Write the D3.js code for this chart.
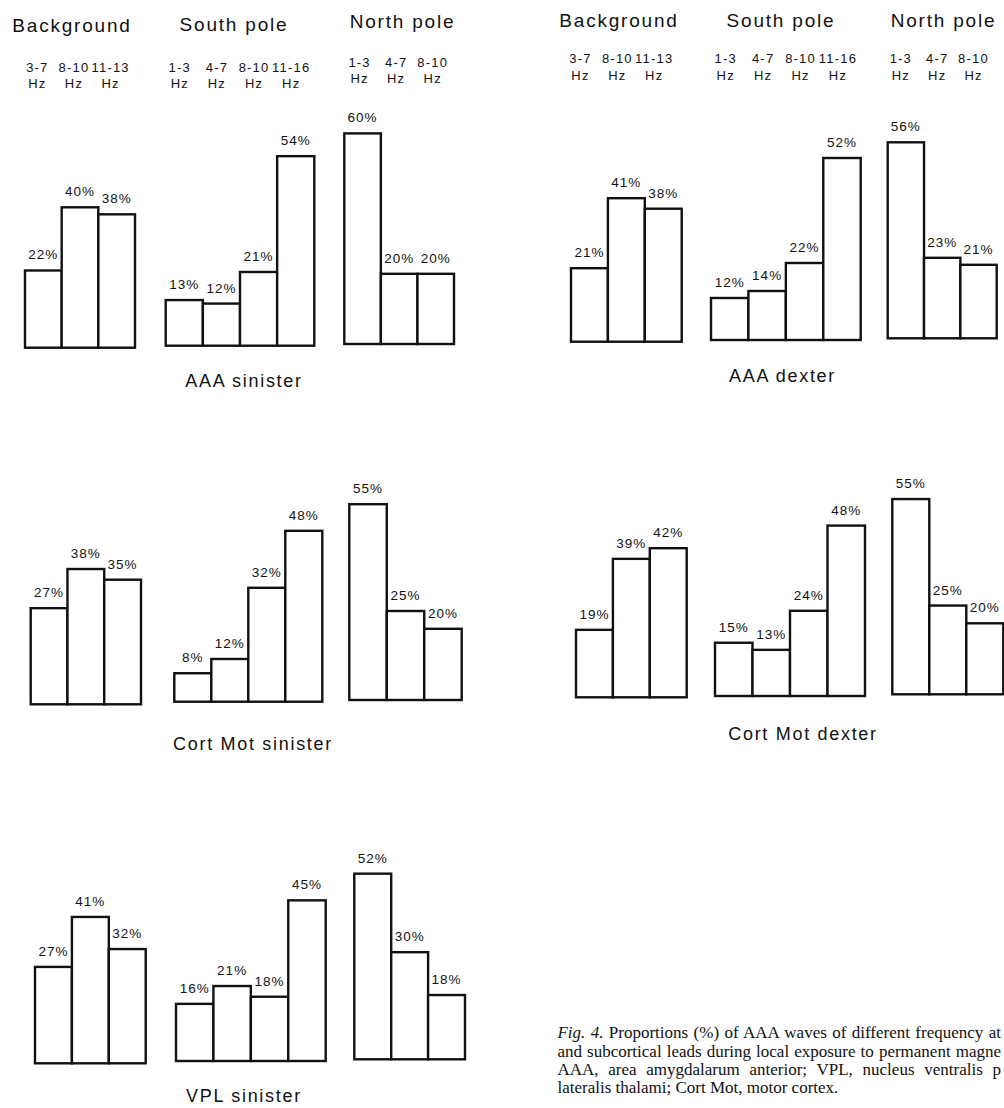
<!DOCTYPE html>
<html>
<head>
<meta charset="utf-8">
<script src="https://cdn.jsdelivr.net/npm/d3@7"></script>
<style>
  html, body { margin: 0; padding: 0; background: #fff; }
  svg { display: block; }
  .sans { font-family: "Liberation Sans", Arial, sans-serif; fill: #111; }
  .serif { font-family: "Liberation Serif", "Times New Roman", serif; fill: #111; }
</style>
</head>
<body>
<svg id="fig" width="1004" height="1108"></svg>
<script>
// Frequency bands per recording condition
const backgroundBands = ["3-7", "8-10", "11-13"];
const southBands = ["1-3", "4-7", "8-10", "11-16"];
const northBands = ["1-3", "4-7", "8-10"];
const conditionNames = ["Background", "South pole", "North pole"];

// Proportions (%) of AAA waves: [background, south pole, north pole]
const aaaSinister = [[22, 40, 38], [13, 12, 21, 54], [60, 20, 20]];
const aaaDexter = [[21, 41, 38], [12, 14, 22, 52], [56, 23, 21]];
const cortMotSinister = [[27, 38, 35], [8, 12, 32, 48], [55, 25, 20]];
const cortMotDexter = [[19, 39, 42], [15, 13, 24, 48], [55, 25, 20]];
const vplSinister = [[27, 41, 32], [16, 21, 18, 45], [52, 30, 18]];

const panelTitles = ["AAA sinister", "AAA dexter", "Cort Mot sinister", "Cort Mot dexter", "VPL sinister"];

// Caption lines as they appear on the page (the right margin trims them)
const captionLines = [
  "Fig. 4. Proportions (%) of AAA waves of different frequency at",
  "and subcortical leads during local exposure to permanent magne",
  "AAA, area amygdalarum anterior; VPL, nucleus ventralis p",
  "lateralis thalami; Cort Mot, motor cortex."
];

const bandSets = [backgroundBands, southBands, northBands];
const svg = d3.select("#fig");
svg.append("rect").attr("width", 1004).attr("height", 1108).attr("fill", "#fff");

// Page geometry of each panel: group extents, baselines and px-per-percent
const panels = [
  { values: aaaSinister, k: 3.51, title: [244, 386.7],
    groups: [{ x: [25, 135], base: 347.7 }, { x: [165.7, 314.3], base: 345.7 }, { x: [344.3, 454], base: 344 }] },
  { values: aaaDexter, k: 3.50, title: [782.5, 381.7],
    groups: [{ x: [571, 681.7], base: 341.7 }, { x: [711, 860.7], base: 340 }, { x: [887.7, 996.7], base: 338.3 }] },
  { values: cortMotSinister, k: 3.56, title: [253, 750],
    groups: [{ x: [30.7, 141], base: 704.3 }, { x: [174.3, 322.3], base: 701.7 }, { x: [349.3, 461.7], base: 700 }] },
  { values: cortMotDexter, k: 3.55, title: [803, 740],
    groups: [{ x: [576, 686.7], base: 697.3 }, { x: [715, 865], base: 696 }, { x: [892.3, 1003.3], base: 694.3 }] },
  { values: vplSinister, k: 3.57, title: [244, 1101.7],
    groups: [{ x: [35, 145.7], base: 1063.3 }, { x: [176, 325.7], base: 1061 }, { x: [354.3, 465], base: 1059.3 }] }
];

panels.forEach((p, pi) => {
  const g = svg.append("g").attr("class", "panel");
  p.groups.forEach((grp, gi) => {
    const cats = bandSets[gi];
    const x = d3.scaleBand().domain(cats).range(grp.x).padding(0);
    const y = d3.scaleLinear().domain([0, 60]).range([grp.base, grp.base - 60 * p.k]);
    const data = cats.map((c, i) => ({ c, v: p.values[gi][i] }));
    g.selectAll(null).data(data).enter().append("rect")
      .attr("x", d => x(d.c)).attr("y", d => y(d.v))
      .attr("width", x.bandwidth()).attr("height", d => y(0) - y(d.v))
      .attr("fill", "#fff").attr("stroke", "#111").attr("stroke-width", 2.4);
    g.selectAll(null).data(data).enter().append("text")
      .attr("class", "sans")
      .attr("x", d => x(d.c) + x.bandwidth() / 2).attr("y", d => y(d.v) - 11)
      .attr("text-anchor", "middle").attr("font-size", 13.5).attr("letter-spacing", 1)
      .text(d => d.v + "%");
  });
  g.append("text").attr("class", "sans")
    .attr("x", p.title[0]).attr("y", p.title[1])
    .attr("text-anchor", "middle").attr("font-size", 18).attr("letter-spacing", 1.7)
    .text(panelTitles[pi]);
});

// Column headers (condition names and frequency bands), aligned with the top row
const headerCols = [
  { panel: 0, group: 0, name: [72, 31.7], freqY: 71.7, dx: -6 },
  { panel: 0, group: 1, name: [234, 31], freqY: 71.7, dx: -4.5 },
  { panel: 0, group: 2, name: [402.5, 28], freqY: 66.7, dx: -3 },
  { panel: 1, group: 0, name: [619, 26.7], freqY: 63.3, dx: -9 },
  { panel: 1, group: 1, name: [781, 26.7], freqY: 63.3, dx: -4 },
  { panel: 1, group: 2, name: [943.5, 26.7], freqY: 63.3, dx: -5 }
];
headerCols.forEach(h => {
  const grp = panels[h.panel].groups[h.group];
  const cats = bandSets[h.group];
  const x = d3.scaleBand().domain(cats).range(grp.x).padding(0);
  svg.append("text").attr("class", "sans")
    .attr("x", h.name[0]).attr("y", h.name[1])
    .attr("text-anchor", "middle").attr("font-size", 19).attr("letter-spacing", 1.8)
    .text(conditionNames[h.group]);
  const t = svg.selectAll(null).data(cats).enter().append("text")
    .attr("class", "sans").attr("text-anchor", "middle")
    .attr("font-size", 13).attr("letter-spacing", 1.2);
  t.append("tspan").attr("x", c => x(c) + x.bandwidth() / 2 + h.dx).attr("y", h.freqY).text(c => c);
  t.append("tspan").attr("x", c => x(c) + x.bandwidth() / 2 + h.dx).attr("y", h.freqY + 16.6).text("Hz");
});

// Justified caption block: the first three lines fill the measure up to the right margin
const capFont = 17;
const capBase = [1038, 1056.5, 1075, 1092.5];
const rightEdge = 1001;
const lastLineBreak = 760;      // where "otor" begins on the last line

function measure(str, italicLen) {
  const t = svg.append("text").attr("class", "serif").attr("font-size", capFont);
  if (italicLen) {
    t.append("tspan").attr("font-style", "italic").text(str.slice(0, italicLen));
    t.append("tspan").text(str.slice(italicLen));
  } else t.text(str);
  const w = t.node().getComputedTextLength();
  t.remove();
  return w;
}
const x0 = lastLineBreak - measure("lateralis thalami; Cort Mot, m", 0);
captionLines.forEach((line, i) => {
  const italicLen = i === 0 ? 7 : 0;
  let ws = 0;
  if (i < 3) {
    const w = measure(line, italicLen);
    const spaces = (line.match(/ /g) || []).length;
    ws = Math.max(0, (rightEdge - x0 - w) / spaces);
  }
  const t = svg.append("text").attr("class", "serif")
    .attr("x", x0).attr("y", capBase[i]).attr("font-size", capFont)
    .style("word-spacing", ws + "px");
  if (italicLen) {
    t.append("tspan").attr("font-style", "italic").text(line.slice(0, italicLen));
    t.append("tspan").text(line.slice(italicLen));
  } else t.text(line);
});
</script>
</body>
</html>
